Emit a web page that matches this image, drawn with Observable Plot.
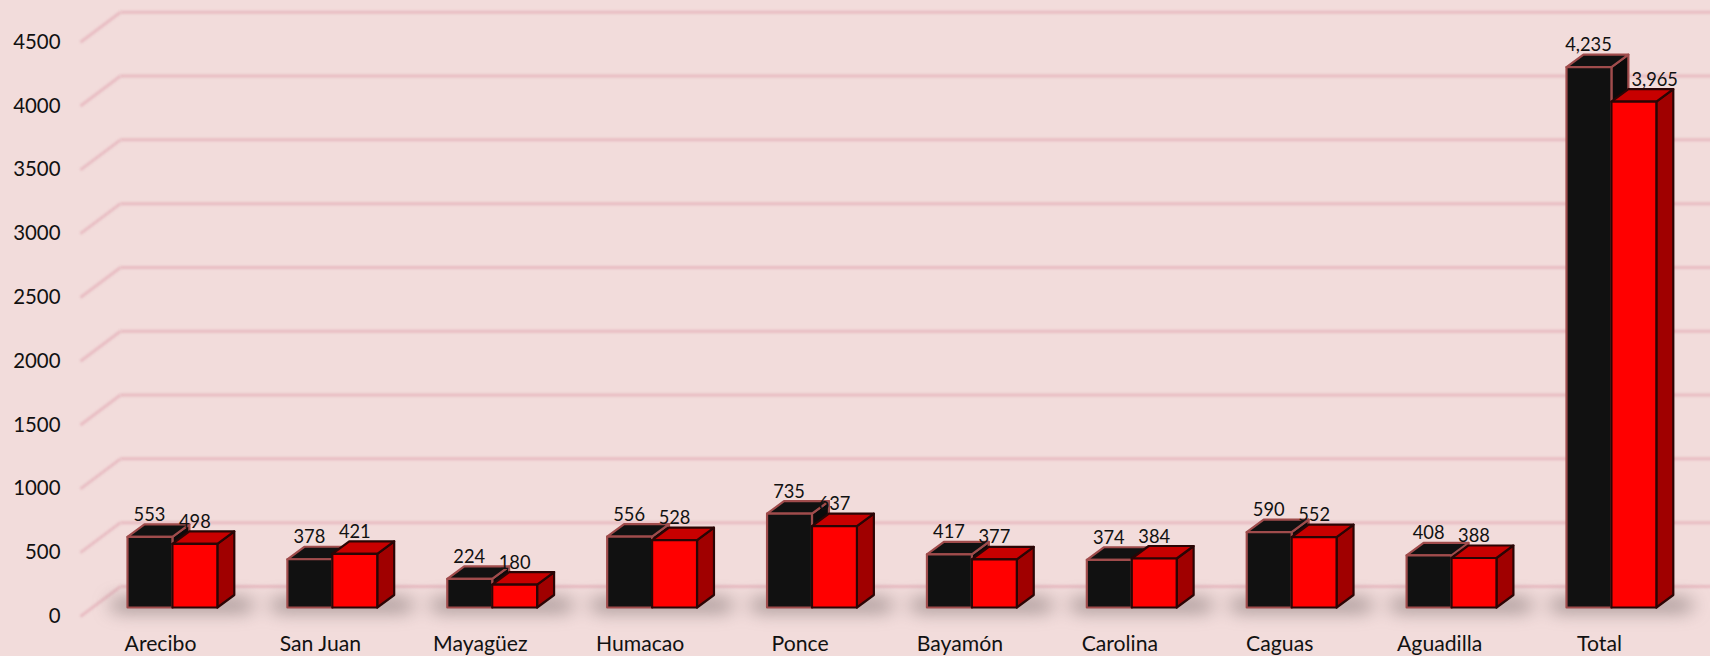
<!DOCTYPE html>
<html>
<head>
<meta charset="utf-8">
<script src="https://cdn.jsdelivr.net/npm/d3@7"></script>
<script src="https://cdn.jsdelivr.net/npm/@observablehq/plot@0.6"></script>
<style>
html,body{margin:0;padding:0;background:#f2dcdb;overflow:hidden}
svg{display:block}
</style>
</head>
<body>
<div id="chart"></div>
<script>
const categories = ["Arecibo","San Juan","Mayagüez","Humacao","Ponce","Bayamón","Carolina","Caguas","Aguadilla","Total"];
const blackValues = [553,378,224,556,735,417,374,590,408,4235];
const redValues = [498,421,180,528,637,377,384,552,388,3965];
const yTicks = [0,500,1000,1500,2000,2500,3000,3500,4000,4500];

const barW = 0.281, depthX = 0.106, depthY = 98;
const indices = categories.map((_, i) => i);

function faces(values, start, kind) {
  const rows = [];
  values.forEach((v, i) => {
    const l = i + start, r = l + barW;
    const poly = kind === "front"
      ? [[l,0],[r,0],[r,v],[l,v],[l,0]]
      : kind === "top"
      ? [[l,v],[r,v],[r+depthX,v+depthY],[l+depthX,v+depthY],[l,v]]
      : [[r,0],[r+depthX,depthY],[r+depthX,v+depthY],[r,v],[r,0]];
    poly.forEach(([x, y]) => rows.push({id: i, x, y}));
  });
  return rows;
}
function box(values, start, fTop, fSide, fFront, stroke, sw) {
  const common = {x: "x", y: "y", z: "id", stroke, strokeWidth: sw, curve: "linear", imageFilter: "blur(0.6px)"};
  return [
    Plot.line(faces(values, start, "side"), {...common, fill: fSide}),
    Plot.line(faces(values, start, "top"), {...common, fill: fTop}),
    Plot.line(faces(values, start, "front"), {...common, fill: fFront})
  ];
}

const chart = Plot.plot({
  width: 1710, height: 656,
  marginLeft: 60, marginBottom: 21, marginTop: 0, marginRight: 0,
  style: {background: "#f2dcdb", fontFamily: "Lato, 'Open Sans', sans-serif", color: "#111", overflow: "hidden"},
  x: {domain: [0, 9], range: [127, 1566], axis: null},
  y: {domain: [0, 4500], range: [607, 32.8], axis: null},
  marks: [
    // back wall grid lines and floor diagonals
    Plot.link(yTicks, {x1: () => -0.044, x2: () => 10, y1: d => d + 165, y2: d => d + 165,
      stroke: "#e8bcc2", strokeWidth: 3, imageFilter: "blur(0.9px)"}),
    Plot.link(yTicks, {x1: () => -0.294, x2: () => -0.044, y1: d => d - 70, y2: d => d + 165,
      stroke: "#e8bcc2", strokeWidth: 3, imageFilter: "blur(0.9px)"}),
    // floor shadows
    Plot.rect(indices, {x1: i => i - 0.11, x2: i => i + 0.8, y1: () => -30, y2: () => 60,
      fill: "#6a5c5d", fillOpacity: 0.7, rx: 16, imageFilter: "blur(9px)"}),
    ...box(blackValues, 0, "#111111", "#0b0b0b", "#111111", "#a04c4c", 2.2),
    ...box(redValues, barW, "#c80000", "#a00000", "#ff0000", "#2a0505", 2.2),
    // value labels
    Plot.text(indices, {x: i => i + barW / 2 - 0.003, y: i => blackValues[i], text: i => d3.format(",")(blackValues[i]),
      textAnchor: "middle", lineAnchor: "bottom", dy: -16, fontSize: 18.3, fill: "#111"}),
    Plot.text(indices, {x: i => i + barW * 1.5 + (i === 9 ? 0.13 : 0), y: i => redValues[i], text: i => d3.format(",")(redValues[i]),
      textAnchor: "middle", lineAnchor: "bottom", dy: -16, fontSize: 18.3, fill: "#111"}),
    // axes
    Plot.axisY({ticks: yTicks, tickSize: 0, tickPadding: 0, dy: 9, fontSize: 20.4, label: null, tickFormat: d => String(d)}),
    Plot.axisX({ticks: indices, tickSize: 0, tickPadding: 0, dx: 33, fontSize: 21.2, label: null, tickFormat: i => categories[i]})
  ]
});
document.getElementById("chart").appendChild(chart);
</script>
</body>
</html>
